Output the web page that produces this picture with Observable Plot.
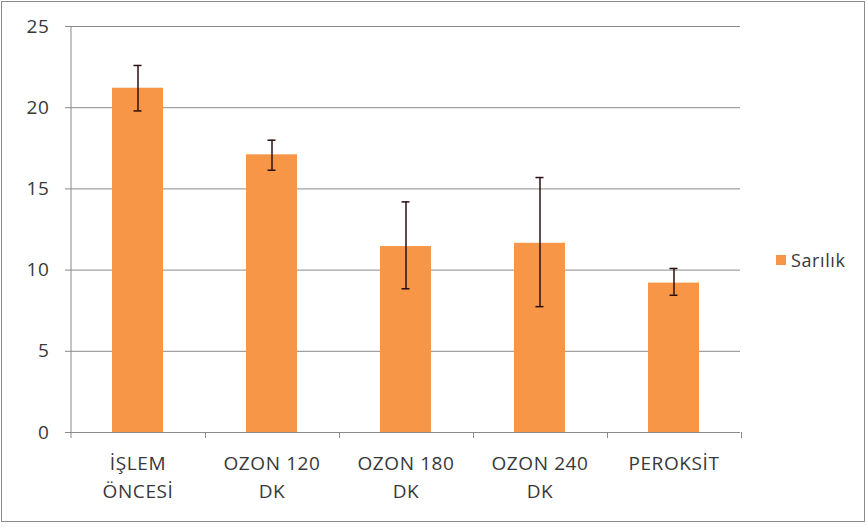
<!DOCTYPE html>
<html>
<head>
<meta charset="utf-8">
<script src="https://cdn.jsdelivr.net/npm/d3@7"></script>
<script src="https://cdn.jsdelivr.net/npm/@observablehq/plot@0.6"></script>
<style>
  html, body { margin: 0; padding: 0; background: #fff; }
  #wrap { position: relative; width: 867px; height: 527px; overflow: hidden; }
  #frame { position: absolute; left: 1px; top: 1px; width: 862px; height: 519px; border: 1px solid #8c8c8c; }
  #chart { position: absolute; left: 0; top: 0; }
  #chart svg text { letter-spacing: 0.6px; }
  #legend { position: absolute; left: 776px; top: 248px; font-family: "Open Sans", sans-serif; font-size: 18px; letter-spacing: 0.6px; color: #383838; display: flex; align-items: center; }
  #legend .sw { width: 10px; height: 10px; background: #F79646; margin-right: 5px; }
</style>
</head>
<body>
<div id="wrap">
  <div id="frame"></div>
  <div id="chart"></div>
  <div id="legend"><span class="sw"></span><span>Sarılık</span></div>
</div>
<script>
const categories = ["İŞLEM\nÖNCESİ", "OZON 120\nDK", "OZON 180\nDK", "OZON 240\nDK", "PEROKSİT"];
const values = [21.2, 17.1, 11.45, 11.65, 9.2];
const errHigh = [22.6, 18.0, 14.2, 15.7, 10.1];
const errLow = [19.8, 16.15, 8.85, 7.75, 8.45];
const yTicks = [0, 5, 10, 15, 20, 25];
const seriesName = "Sarılık";

const data = categories.map((c, i) => ({cat: c, v: values[i], hi: errHigh[i], lo: errLow[i]}));

const font = "'Open Sans', sans-serif";
const plot = Plot.plot({
  width: 867,
  height: 527,
  marginLeft: 70,
  marginRight: 127,
  marginTop: 26,
  marginBottom: 95,
  style: {fontFamily: font, fontSize: "19px", color: "#383838", background: "transparent"},
  x: {domain: categories, paddingInner: 0.62, paddingOuter: 0.31, label: null},
  y: {domain: [0, 25], ticks: yTicks, label: null},
  marks: [
    Plot.gridY(yTicks, {stroke: "#8a8a8a", strokeOpacity: 1, strokeWidth: 1}),
    Plot.barY(data, {x: "cat", y: "v", fill: "#F79646"}),
    Plot.ruleX(data, {x: "cat", y1: "lo", y2: "hi", stroke: "#2a1010", strokeWidth: 1.5}),
    Plot.tickY(data, {x: "cat", y: "hi", stroke: "#2a1010", strokeWidth: 1.5, insetLeft: 21.5, insetRight: 21.5}),
    Plot.tickY(data, {x: "cat", y: "lo", stroke: "#2a1010", strokeWidth: 1.5, insetLeft: 21.5, insetRight: 21.5}),
    Plot.ruleY([0], {stroke: "#8a8a8a", strokeWidth: 1}),
    Plot.axisY({ticks: yTicks, tickSize: 5, tickPadding: 16, stroke: "#8a8a8a", fill: "#383838", fontSize: 19}),
    Plot.axisX({tickSize: 0, tickPadding: 17, lineHeight: 1.5, fill: "#383838", fontSize: 19})
  ]
});
document.getElementById("chart").appendChild(plot);

// boundary ticks and y axis line drawn with the plot's own scales
const xs = plot.scale("x");
const ys = plot.scale("y");
const svg = d3.select(plot);
const step = xs.step;
const first = xs.apply(categories[0]) - (xs.step - xs.bandwidth) / 2;
const y0 = ys.apply(0);
const yTop = ys.apply(25);
const g = svg.append("g").attr("stroke", "#8a8a8a").attr("stroke-width", 1);
g.append("line").attr("x1", first + 0.5).attr("x2", first + 0.5).attr("y1", yTop).attr("y2", y0 + 6);
for (let i = 1; i <= categories.length; i++) {
  const xb = Math.round(first + i * step) + 0.5;
  g.append("line").attr("x1", xb).attr("x2", xb).attr("y1", y0).attr("y2", y0 + 6);
}
</script>
</body>
</html>
